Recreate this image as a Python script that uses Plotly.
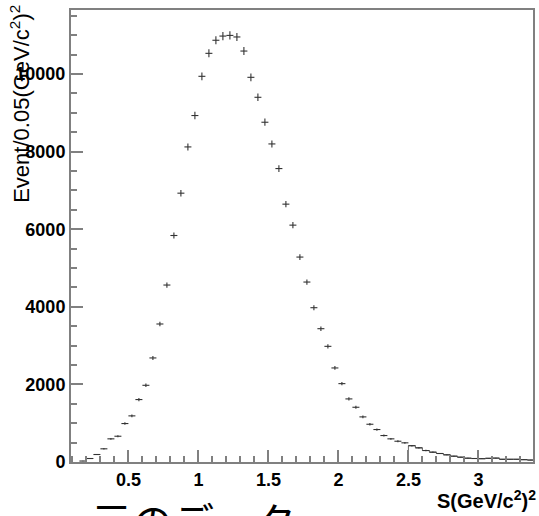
import plotly.graph_objects as go

# bin centres (width 0.05) and counts
bin_centers = [0.175, 0.225, 0.275, 0.325, 0.375, 0.425, 0.475, 0.525, 0.575, 0.625,
               0.675, 0.725, 0.775, 0.825, 0.875, 0.925, 0.975, 1.025, 1.075, 1.125,
               1.175, 1.225, 1.275, 1.325, 1.375, 1.425, 1.475, 1.525, 1.575, 1.625,
               1.675, 1.725, 1.775, 1.825, 1.875, 1.925, 1.975, 2.025, 2.075, 2.125,
               2.175, 2.225, 2.275, 2.325, 2.375, 2.425, 2.475, 2.525, 2.575, 2.625,
               2.675, 2.725, 2.775, 2.825, 2.875, 2.925, 2.975, 3.025, 3.075, 3.125,
               3.175, 3.225, 3.275, 3.325, 3.375]
counts = [25, 90, 193, 340, 597, 664, 991, 1189, 1609, 1977,
          2682, 3557, 4561, 5838, 6929, 8121, 8930, 9941, 10533, 10870,
          10978, 10995, 10955, 10592, 9915, 9400, 8757, 8198, 7563, 6646,
          6105, 5282, 4638, 3977, 3436, 2981, 2424, 2020, 1626, 1411,
          1163, 973, 837, 682, 597, 535, 494, 420, 365, 296,
          253, 219, 185, 150, 124, 98, 90, 85, 95, 100,
          70, 70, 70, 60, 50]
bin_width = 0.05
tail_start = 2.5

y_ticks = [0, 2000, 4000, 6000, 8000, 10000]
x_ticks = [0.5, 1, 1.5, 2, 2.5, 3]
x_tick_labels = ["0.5", "1", "1.5", "2", "2.5", "3"]

errs_y = [c ** 0.5 for c in counts]
errs_x = [bin_width / 2] * len(counts)

fig = go.Figure()

# histogram outline for the tail region
tail_x = [tail_start]
tail_y = [0]
for c, v in zip(bin_centers, counts):
    if c > tail_start:
        tail_x.append(c - bin_width / 2)
        tail_y.append(v)
tail_x.append(bin_centers[-1] + bin_width / 2)
tail_y.append(tail_y[-1])
fig.add_trace(go.Scatter(x=tail_x, y=tail_y, mode="lines", line_shape="hv",
                         line=dict(color="#666666", width=1), hoverinfo="skip",
                         showlegend=False))

fig.add_trace(go.Scatter(
    x=bin_centers, y=counts, mode="markers",
    marker=dict(size=1, color="rgba(0,0,0,0)"),
    error_x=dict(type="data", array=errs_x, visible=True, width=0, thickness=1.1, color="#333333"),
    error_y=dict(type="data", array=errs_y, visible=True, width=0, thickness=1.1, color="#333333"),
    showlegend=False))

tick_font = dict(family="Liberation Sans, Arial, sans-serif", size=18, color="black")

fig.update_layout(
    width=539, height=516,
    margin=dict(l=71, r=4, t=10, b=54),
    paper_bgcolor="white", plot_bgcolor="white",
    xaxis=dict(range=[0.09, 3.39], tickvals=x_ticks, ticktext=["<b>%s</b>" % t for t in x_tick_labels],
               ticks="inside", ticklen=12, tickwidth=2, tickcolor="#808080",
               showline=True, linecolor="#808080", linewidth=2, mirror=True,
               showgrid=False, zeroline=False, tickfont=tick_font,
               minor=dict(ticks="inside", ticklen=6, tickwidth=1.5, tickcolor="#808080", dtick=0.1, tick0=0, showgrid=False)),
    yaxis=dict(range=[0, 11650], tickvals=y_ticks, ticktext=["<b>%d</b>" % t for t in y_ticks],
               ticks="inside", ticklen=12, tickwidth=2, tickcolor="#808080",
               showline=True, linecolor="#808080", linewidth=2, mirror=True,
               showgrid=False, zeroline=False, tickfont=tick_font,
               minor=dict(ticks="inside", ticklen=6, tickwidth=1.5, tickcolor="#808080", dtick=500, tick0=0, showgrid=False)),
)

fig.add_annotation(text="Event/0.05(GeV/c<sup>2</sup>)<sup>2</sup>", textangle=-90,
                   xref="paper", yref="paper", x=0, y=0.569, xanchor="center", yanchor="bottom",
                   xshift=-51, showarrow=False,
                   font=dict(family="Liberation Sans, Arial, sans-serif", size=22, color="black"))
fig.add_annotation(text="<b>S(GeV/c<sup>2</sup>)<sup>2</sup></b>",
                   xref="paper", yref="paper", x=1, y=-0.077, xanchor="right", yanchor="middle",
                   xshift=5, yshift=-3, showarrow=False,
                   font=dict(family="Liberation Sans, Arial, sans-serif", size=20, color="black"))
fig.add_annotation(text="元のデータ",
                   xref="paper", yref="paper", x=0.0, y=-0.128, xanchor="left", yanchor="middle",
                   xshift=18, showarrow=False,
                   font=dict(family="Noto Sans CJK JP", size=41, color="black"))

fig.write_html("out.html")
